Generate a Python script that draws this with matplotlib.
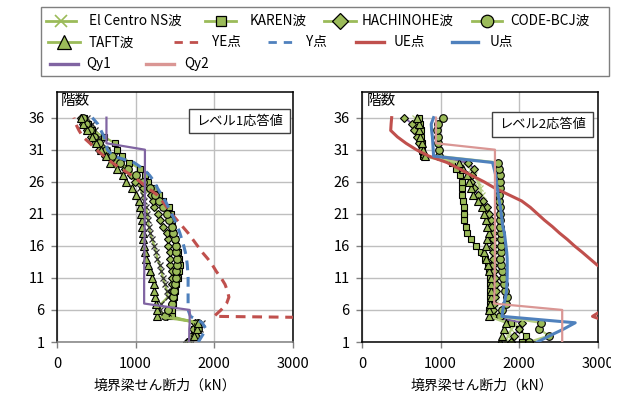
import matplotlib
matplotlib.use('Agg')
import matplotlib.pyplot as plt
from matplotlib.lines import Line2D
from matplotlib.patches import Rectangle

plt.rcParams['font.family'] = ['Noto Sans CJK JP', 'DejaVu Sans']

# ---------------- data (floor 1 -> 36) ----------------
floors = list(range(1, 37))
x_ticks = [0, 1000, 2000, 3000]
y_ticks = [1, 6, 11, 16, 21, 26, 31, 36]

# Level 1 (left panel)
elcentro_L = [1720, 1760, 1820, 1850, 1380, 1310, 1330, 1410, 1400, 1375, 1350, 1330,
              1310, 1280, 1260, 1240, 1210, 1190, 1170, 1160, 1150, 1130, 1110, 1090,
              1060, 1040, 960, 900, 830, 740, 640, 570, 530, 490, 440, 380]
karen_L = [1680, 1720, 1750, 1770, 1460, 1470, 1480, 1490, 1500, 1520, 1540, 1560,
           1570, 1560, 1545, 1520, 1500, 1480, 1470, 1460, 1450, 1430, 1355, 1300,
           1240, 1165, 1120, 1060, 920, 830, 770, 740, 600, 450, 400, 350]
hachinohe_L = [1650, 1775, 1735, 1755, 1400, 1420, 1460, 1460, 1460, 1460, 1460, 1460,
               1440, 1440, 1440, 1420, 1410, 1395, 1355, 1310, 1290, 1240, 1228, 1200,
               1100, 995, 940, 870, 740, 615, 540, 480, 430, 380, 330, 300]
code_L = [1680, 1760, 1800, 1790, 1380, 1420, 1460, 1480, 1490, 1500, 1510, 1520,
          1530, 1530, 1520, 1510, 1500, 1480, 1460, 1430, 1400, 1350, 1300, 1250,
          1180, 1100, 1000, 900, 800, 700, 620, 540, 470, 420, 370, 330]
taft_L = [1680, 1750, 1780, 1800, 1280, 1270, 1260, 1250, 1240, 1230, 1210, 1190,
          1160, 1140, 1120, 1110, 1100, 1090, 1085, 1080, 1070, 1060, 1040, 1010,
          960, 880, 840, 760, 680, 620, 560, 500, 440, 380, 330, 300]
ye_point = [9000, 9000, 9000, 9000, 2000, 2090, 2160, 2190, 2170, 2140, 2090, 2030,
            1980, 1920, 1850, 1790, 1730, 1670, 1600, 1530, 1460, 1400, 1340, 1270,
            1160, 1060, 950, 820, 700, 600, 500, 420, 330, 280, 240, 215]
y_point = [1800, 1850, 1900, 1850, 1700, 1670, 1670, 1670, 1670, 1670, 1670, 1665,
           1660, 1650, 1635, 1615, 1590, 1565, 1535, 1500, 1460, 1420, 1380, 1330,
           1280, 1240, 1180, 1100, 980, 720, 640, 630, 600, 560, 520, 450]
qy1 = [1680, 1685, 1685, 1690, 1690, 1690, 1110, 1110, 1110, 1110, 1110, 1112,
       1112, 1114, 1114, 1115, 1115, 1116, 1116, 1117, 1117, 1118, 1118, 1119,
       1119, 1120, 1120, 1120, 1120, 1120, 1120, 630, 630, 630, 630, 630]

# Level 2 (right panel)
elcentro_R = [1820, 1860, 1900, 1950, 1700, 1680, 1690, 1700, 1700, 1690, 1680, 1670,
              1665, 1660, 1660, 1660, 1660, 1650, 1640, 1620, 1600, 1580, 1540, 1520,
              1500, 1480, 1430, 1380, 1300, 780, 760, 740, 720, 700, 690, 680]
karen_R = [2030, 2080, 2000, 1900, 1640, 1620, 1630, 1630, 1630, 1630, 1625, 1620,
           1600, 1560, 1508, 1444, 1381, 1339, 1318, 1300, 1296, 1296, 1285, 1275,
           1275, 1275, 1250, 1200, 1150, 770, 765, 760, 750, 745, 740, 724]
hachinohe_R = [1890, 1930, 1995, 2040, 1660, 1660, 1680, 1690, 1700, 1700, 1690, 1680,
               1670, 1670, 1670, 1670, 1665, 1660, 1650, 1640, 1620, 1590, 1540, 1480,
               1420, 1381, 1400, 1423, 1350, 790, 745, 720, 700, 660, 640, 540]
code_R = [2122, 2376, 2250, 2270, 1760, 1780, 1830, 1840, 1820, 1800, 1790, 1780,
          1770, 1760, 1765, 1770, 1770, 1765, 1760, 1755, 1750, 1750, 1745, 1745,
          1750, 1755, 1750, 1745, 1735, 980, 975, 970, 960, 950, 960, 1030]
taft_R = [1760, 1780, 1810, 1830, 1614, 1614, 1630, 1635, 1635, 1635, 1635, 1614,
          1600, 1572, 1550, 1572, 1593, 1614, 1593, 1572, 1550, 1530, 1470, 1410,
          1380, 1360, 1330, 1290, 1232, 800, 780, 760, 740, 730, 720, 700]
ue_point = [3500, 3500, 3400, 3150, 2930, 3060, 3150, 3250, 3280, 3250, 3200, 3120,
            2990, 2895, 2800, 2700, 2610, 2510, 2420, 2320, 2230, 2140, 2030, 1860,
            1690, 1550, 1390, 1240, 1080, 850, 690, 560, 450, 365, 370, 377]
u_point = [2230, 2390, 2560, 2710, 1780, 1790, 1805, 1825, 1838, 1842, 1845, 1846,
           1846, 1845, 1840, 1830, 1820, 1810, 1790, 1780, 1770, 1760, 1745, 1730,
           1720, 1710, 1700, 1680, 1660, 910, 905, 900, 895, 885, 880, 910]
qy2 = [2545, 2545, 2545, 2545, 2545, 2545, 1680, 1682, 1684, 1685, 1686, 1687,
       1688, 1688, 1689, 1689, 1690, 1690, 1690, 1690, 1690, 1690, 1690, 1690,
       1690, 1690, 1690, 1690, 1690, 1690, 1690, 940, 940, 940, 940, 940]

legend_labels = ['El Centro NS波', 'KAREN波', 'HACHINOHE波', 'CODE-BCJ波', 'TAFT波',
                 'YE点', 'Y点', 'UE点', 'U点', 'Qy1', 'Qy2']

# ---------------- styles ----------------
GREEN = '#9BBB59'
LGREEN = '#B5CF82'
RED = '#C0504D'
BLUE = '#4F81BD'
PURPLE = '#8064A2'
PINK = '#DA9694'

W, H = 624, 401
fig = plt.figure(figsize=(W / 100, H / 100), dpi=100)


def fx(px):
    return px / W


def fy(py):
    return 1 - py / H


axL = fig.add_axes([fx(57), fy(342), fx(292.5) - fx(57), fy(92) - fy(342)])
axR = fig.add_axes([fx(362), fy(342), fx(598) - fx(362), fy(92) - fy(342)])


def setup(ax, bottom_color):
    ax.set_xlim(0, 3000)
    ax.set_ylim(1, 40)
    ax.set_xticks(x_ticks)
    ax.set_yticks(y_ticks)
    ax.grid(True, color='#BFBFBF', lw=1.0)
    ax.set_axisbelow(True)
    for s in ax.spines.values():
        s.set_color('black')
        s.set_linewidth(1.1)
    ax.spines['bottom'].set_color(bottom_color)
    ax.tick_params(direction='out', length=4, color='#808080', labelsize=10.5,
                   width=1)
    ax.tick_params(axis='y', pad=5)
    ax.tick_params(axis='x', pad=7)


setup(axL, '#808080')
setup(axR, 'black')

ms = 5.0


def waves(ax, ec, ka, ha, co, ta, ec_mcolor, line_color, ha_line):
    ax.plot(ec, floors, color=line_color, lw=1.6, marker='x', ms=ms, mec=ec_mcolor,
            mew=0.9, zorder=2)
    ax.plot(ka, floors, color=line_color, lw=1.6, marker='s', ms=ms - 0.4, mfc=GREEN,
            mec='black', mew=0.8, zorder=2)
    ax.plot(ha, floors, color=ha_line, lw=1.4, marker='D', ms=ms - 0.6, mfc=GREEN,
            mec='black', mew=0.8, zorder=2)
    ax.plot(co, floors, color=line_color, lw=1.6, marker='o', ms=ms + 0.5, mfc=GREEN,
            mec='black', mew=0.8, zorder=2)
    ax.plot(ta, floors, color=line_color, lw=1.6, marker='^', ms=ms + 0.5, mfc=GREEN,
            mec='black', mew=0.8, zorder=2)


# Left panel
waves(axL, elcentro_L, karen_L, hachinohe_L, code_L, taft_L, '#303030', GREEN, GREEN)
axL.plot(ye_point, floors, color=RED, lw=2.2, ls=(0, (3.2, 2.2)), zorder=3)
axL.plot(y_point, floors, color=BLUE, lw=2.2, ls=(0, (3.2, 2.2)), zorder=3)
axL.plot(qy1, floors, color=PURPLE, lw=1.6, zorder=3)

# Right panel
waves(axR, elcentro_R, karen_R, hachinohe_R, code_R, taft_R, LGREEN, LGREEN, PURPLE)
axR.plot(ue_point, floors, color=RED, lw=2.2, zorder=3)
axR.plot(u_point, floors, color=BLUE, lw=2.2, zorder=3)
axR.plot(qy2, floors, color=PINK, lw=1.6, zorder=3)

# floor label inside plots
axL.text(fx(61), fy(101), '階数', transform=fig.transFigure, fontsize=10.5,
         ha='left', va='center', zorder=5)
axR.text(fx(367), fy(101), '階数', transform=fig.transFigure, fontsize=10.5,
         ha='left', va='center', zorder=5)

# level boxes
for (x0, y0, x1, y1, txt) in [(189, 109, 290, 133, 'レベル1応答値'),
                              (492, 112, 593, 137, 'レベル2応答値')]:
    fig.add_artist(Rectangle((fx(x0), fy(y1)), fx(x1) - fx(x0), fy(y0) - fy(y1),
                             transform=fig.transFigure, fc='white', ec='#404040',
                             lw=1.0, zorder=4))
    fig.text(fx((x0 + x1) / 2), fy((y0 + y1) / 2), txt, fontsize=9.5,
             ha='center', va='center', zorder=5)

# x labels
fig.text(fx(165), fy(386), '境界梁せん断力（kN）', fontsize=10, ha='center', va='center')
fig.text(fx(482), fy(386), '境界梁せん断力（kN）', fontsize=10, ha='center', va='center')

# ---------------- legend (manual layout) ----------------
fig.add_artist(Rectangle((fx(41), fy(76)), fx(609) - fx(41), fy(7) - fy(76),
                         transform=fig.transFigure, fill=False, ec='#7F7F7F', lw=1.0))


def leg_item(x0, x1, y, tx, label, **style):
    xm = (x0 + x1) / 2
    fig.add_artist(Line2D([fx(x0), fx(xm), fx(x1)], [fy(y)] * 3,
                          transform=fig.transFigure, markevery=[1], **style))
    fig.text(fx(tx), fy(y), label, fontsize=9.8, ha='left', va='center')


r1, r2, r3 = 20.7, 42.3, 64
leg_item(46, 76, r1, 89, legend_labels[0], color=GREEN, lw=2, marker='x', ms=8,
         mec=GREEN, mew=1.2)
leg_item(205, 236, r1, 250, legend_labels[1], color=GREEN, lw=2, marker='s', ms=7,
         mfc=GREEN, mec='black', mew=0.9)
leg_item(324, 356, r1, 362, legend_labels[2], color=GREEN, lw=2, marker='D', ms=8,
         mfc=GREEN, mec='black', mew=0.9)
leg_item(472, 502, r1, 510, legend_labels[3], color=GREEN, lw=2, marker='o', ms=9,
         mfc=GREEN, mec='black', mew=0.9)
leg_item(48, 80, r2, 89, legend_labels[4], color=GREEN, lw=2, marker='^', ms=10,
         mfc=GREEN, mec='black', mew=0.9)
leg_item(174, 200, r2, 212, legend_labels[5], color=RED, lw=2, ls=(0, (3, 2.5)))
leg_item(268, 294, r2, 306, legend_labels[6], color=BLUE, lw=2, ls=(0, (3, 2.5)))
leg_item(356, 384, r2, 394, legend_labels[7], color=RED, lw=2.4)
leg_item(452, 478, r2, 490, legend_labels[8], color=BLUE, lw=2.4)
leg_item(50, 78, r3, 86, legend_labels[9], color=PURPLE, lw=2.4)
leg_item(146, 174, r3, 184, legend_labels[10], color=PINK, lw=2.4)

# chart area ends before the right image edge (clips the last tick label)
fig.add_artist(Rectangle((fx(611), 0), fx(624) - fx(611), 1, transform=fig.transFigure,
                         fc='white', ec='none', zorder=20))

fig.savefig('out.png', dpi=100)
